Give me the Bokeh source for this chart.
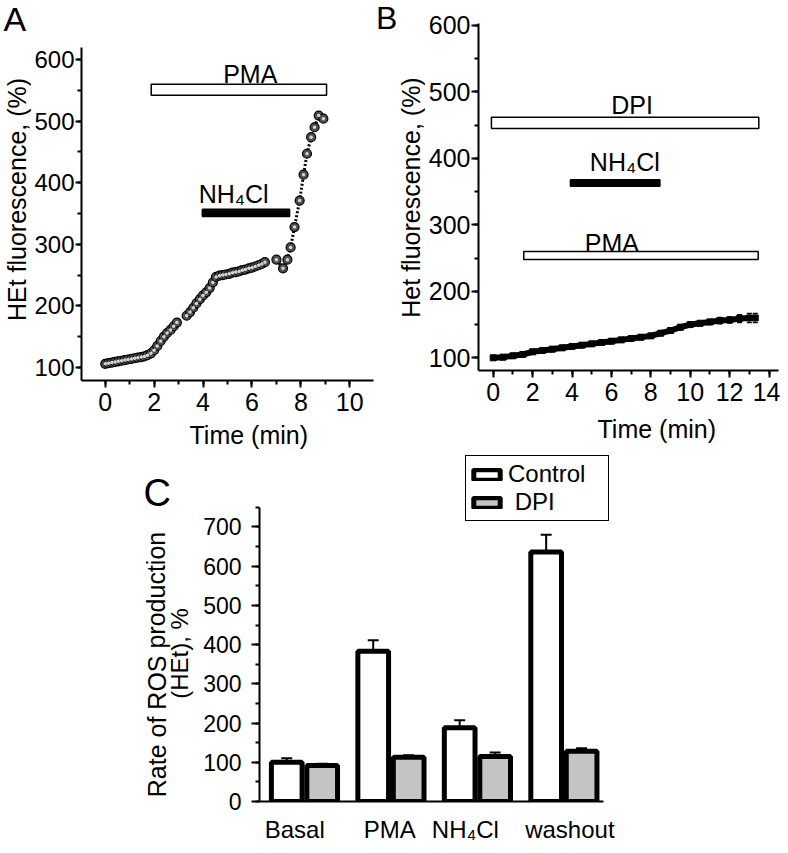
from bokeh.plotting import figure
from bokeh.layouts import column, row
from bokeh.models import (Range1d, SingleIntervalTicker, FixedTicker, Legend, Title,
                          LegendItem, ColumnDataSource, Whisker, TeeHead)
from bokeh.core.properties import value
from bokeh.embed import file_html
from bokeh.resources import INLINE

FONT = "Liberation Sans"

# ---------------- Panel A data ----------------
time_a = [0.00, 0.13, 0.27, 0.40, 0.53, 0.67, 0.80, 0.93, 1.07, 1.20, 1.33, 1.47, 1.60, 1.73, 1.87,
          2.00, 2.13, 2.27, 2.40, 2.53, 2.67, 2.80, 2.93,
          3.33, 3.47, 3.60, 3.73, 3.87, 4.00, 4.13, 4.27, 4.40, 4.53,
          4.67, 4.80, 4.93, 5.07, 5.20, 5.33, 5.47, 5.60, 5.73, 5.87, 6.00, 6.13, 6.27, 6.40, 6.53,
          7.00, 7.27, 7.45, 7.58, 7.74, 7.95, 8.11, 8.25, 8.42, 8.56, 8.73, 8.92]
het_a = [106, 107, 108, 109, 110, 111, 112, 113, 114, 115, 116, 117, 118, 120, 123,
         128, 135, 143, 150, 156, 161, 167, 173,
         184, 190, 197, 204, 211, 217, 222, 229, 238, 247,
         249, 250, 251, 252, 254, 255, 256, 258, 259, 261, 262, 264, 266, 268, 271,
         275, 261, 275, 295, 328, 371, 413, 447, 474, 490, 509, 504]
treat_a_names = ["PMA", "NH\u2084Cl"]
treat_a_start = [1.88, 3.97]
treat_a_end = [9.05, 7.54]

# ---------------- Panel B data ----------------
time_b = [0.0, 0.5, 1.0, 1.5, 2.0, 2.5, 3.0, 3.5, 4.0, 4.5, 5.0, 5.5, 6.0, 6.5, 7.0,
          7.5, 8.0, 8.5, 9.0, 9.5, 10.0, 10.5, 11.0, 11.5, 12.0, 12.5, 13.0, 13.3]
het_b = [100, 101, 103, 105, 109, 111, 113, 115, 117, 119, 121, 123, 125, 127, 129,
         131, 133, 137, 141, 146, 150, 152, 154, 156, 157, 159, 160, 160]
err_b = [2, 2, 2, 2, 2, 2, 3, 3, 3, 3, 3, 3, 3, 3, 3,
         3, 3, 3, 4, 4, 4, 4, 4, 5, 5, 6, 7, 7]
treat_b_names = ["DPI", "NH\u2084Cl", "PMA"]
treat_b_start = [-0.09, 3.92, 1.55]
treat_b_end = [13.48, 8.46, 13.45]

# ---------------- Panel C data ----------------
conditions = ["Basal", "PMA", "NH\u2084Cl", "washout"]
control_rate = [100, 383, 188, 636]
control_err = [10, 28, 19, 44]
dpi_rate = [92, 113, 115, 128]
dpi_err = [4, 5, 10, 8]


def no_align(p):
    if "frame_align" in p.properties():
        p.frame_align = False
    return p


def style_axes(p, size, tick_out=7, standoff=1):
    for ax in (p.xaxis[0], p.yaxis[0]):
        ax.axis_line_width = 2
        ax.axis_line_color = "black"
        ax.major_tick_line_width = 2
        ax.minor_tick_line_width = 2
        ax.major_tick_line_color = "black"
        ax.minor_tick_line_color = "black"
        ax.major_tick_out = tick_out
        ax.major_tick_in = 0
        ax.minor_tick_out = 4
        ax.minor_tick_in = 0
        ax.major_label_text_font = FONT
        ax.major_label_text_font_size = f"{size}px"
        ax.major_label_text_color = "black"
        ax.major_label_standoff = standoff
    p.xgrid.visible = False
    p.ygrid.visible = False
    p.outline_line_color = None


def text_panel(x0, y0, w, h):
    """A frame-only figure whose data space equals page pixels (for free text)."""
    f = figure(width=w, height=h, x_range=Range1d(x0, x0 + w), y_range=Range1d(y0 + h, y0),
               x_axis_location=None, y_axis_location=None, min_border=0,
               output_backend="svg", toolbar_location=None)
    f.xgrid.visible = False
    f.ygrid.visible = False
    f.outline_line_color = None
    return no_align(f)


def put(f, txt, x, y, size, angle=0.0, align="left"):
    f.text(x=[x], y=[y], text=[txt], angle=angle, text_align=align, text_baseline="middle",
           text_font=value(FONT), text_font_size=f"{size}px", text_color="black")


def xtitle(p, txt, offset, standoff):
    p.add_layout(Title(text=txt, align="left", offset=offset, standoff=standoff,
                       text_font=FONT, text_font_size="25px", text_font_style="normal",
                       text_color="black"), "below")


# ================= text column left of A =================
tA = text_panel(0, 0, 31, 455)
put(tA, "A", 3, 18, 34)
put(tA, "HEt fluorescence, (%)", 16.5, 199, 25, angle=1.5708, align="center")

# ================= Panel A =================
pA = figure(width=344, height=455, x_range=Range1d(-0.97, 10.97), y_range=Range1d(78.9, 619.5),
            min_border_left=47, min_border_right=2, min_border_top=47, min_border_bottom=75,
            output_backend="svg", toolbar_location=None)
no_align(pA)
style_axes(pA, 25)
pA.yaxis[0].major_label_text_font_size = "24px"
pA.yaxis[0].major_tick_out = 6
pA.xaxis[0].major_label_standoff = 5
pA.xaxis[0].ticker = SingleIntervalTicker(interval=2, num_minor_ticks=2)
pA.yaxis[0].ticker = SingleIntervalTicker(interval=100, num_minor_ticks=2)

pA.quad(left=treat_a_start, right=treat_a_end, bottom=[542, 345], top=[560, 357],
        fill_color=["white", "black"], line_color="black", line_width=1.5)
pA.text(x=[5.93, 5.25], y=[577, 381], text=treat_a_names, text_align="center",
        text_baseline="middle", text_font=value(FONT), text_font_size="25px", text_color="black")

pA.line(time_a[-12:], het_a[-12:], line_color="black", line_width=3, line_dash="2 2")
pA.scatter(time_a, het_a, size=9, fill_color="#4e4e4e", line_color="#000000", line_width=1.2)
pA.scatter(time_a, het_a, size=3.5, fill_color="#d4d4d4", line_color=None)
xtitle(pA, "Time (min)", 108, 11)

# ================= text column left of B =================
tB = text_panel(375, 0, 50, 455)
put(tB, "B", 375.5, 17.5, 32)
put(tB, "Het fluorescence, (%)", 410.5, 197, 25, angle=1.5708, align="center")

# ================= Panel B =================
pB = figure(width=355, height=455, x_range=Range1d(-0.746, 14.48), y_range=Range1d(80.9, 603),
            min_border_left=53, min_border_right=2, min_border_top=23, min_border_bottom=85,
            output_backend="svg", toolbar_location=None)
no_align(pB)
style_axes(pB, 25)
pB.xaxis[0].major_label_standoff = 5
pB.xaxis[0].ticker = SingleIntervalTicker(interval=2, num_minor_ticks=2)
pB.yaxis[0].ticker = SingleIntervalTicker(interval=100, num_minor_ticks=2)

pB.quad(left=treat_b_start, right=treat_b_end, bottom=[445, 358, 248], top=[462, 368, 260],
        fill_color=["white", "black", "white"], line_color="black", line_width=1.5)
pB.text(x=[7.05, 6.68, 6.02], y=[481, 394, 272], text=treat_b_names, text_align="center",
        text_baseline="middle", text_font=value(FONT), text_font_size="25px", text_color="black")

srcB = ColumnDataSource(dict(t=time_b, v=het_b,
                             up=[v + e for v, e in zip(het_b, err_b)],
                             lo=[v - e for v, e in zip(het_b, err_b)]))
pB.add_layout(Whisker(base="t", upper="up", lower="lo", source=srcB, line_width=1.2,
                      upper_head=TeeHead(size=5, line_width=1.2),
                      lower_head=TeeHead(size=5, line_width=1.2)))
pB.line("t", "v", source=srcB, line_color="black", line_width=6)
pB.scatter("t", "v", source=srcB, marker="square", size=6, fill_color="black", line_color="black")
xtitle(pB, "Time (min)", 119, 18)

# ================= text column left of C =================
tC = text_panel(0, 455, 200, 390)
put(tC, "C", 143, 492.5, 38)
put(tC, "Rate of ROS production", 156, 664, 25, angle=1.5708, align="center")
put(tC, "(HEt), %", 179, 653, 24, angle=1.5708, align="center")

# ================= Panel C =================
# horizontal places of the category names under the groups (layout only)
cat_label_pos = [-0.112, 0.987, 1.861, 3.069]

pC = figure(width=572, height=390, x_range=Range1d(-0.52, 3.886), y_range=Range1d(0, 882.2),
            min_border_left=57, min_border_right=132, min_border_top=0, min_border_bottom=38,
            output_backend="svg", toolbar_location=None)
no_align(pC)
style_axes(pC, 23, tick_out=8, standoff=10)
pC.yaxis[0].ticker = SingleIntervalTicker(interval=100, num_minor_ticks=2)
pC.yaxis[0].bounds = (0, 750)
pC.xaxis[0].bounds = (-0.52, 3.46)
pC.xaxis[0].ticker = FixedTicker(ticks=cat_label_pos)
pC.xaxis[0].major_label_overrides = {pos: c for pos, c in zip(cat_label_pos, conditions)}
pC.xaxis[0].major_tick_out = 0
pC.xaxis[0].major_label_text_font_size = "24px"
pC.xaxis[0].major_label_standoff = 14

idx = list(range(len(conditions)))
x_ctrl = [i - 0.205 for i in idx]
x_dpi = [i + 0.205 for i in idx]

srcC = ColumnDataSource(dict(xc=x_ctrl, yc=control_rate,
                             uc=[v + e for v, e in zip(control_rate, control_err)],
                             xd=x_dpi, yd=dpi_rate,
                             ud=[v + e for v, e in zip(dpi_rate, dpi_err)]))
pC.add_layout(Whisker(base="xc", upper="uc", lower="yc", source=srcC, line_width=2,
                      upper_head=TeeHead(size=11, line_width=2), lower_head=None))
pC.add_layout(Whisker(base="xd", upper="ud", lower="yd", source=srcC, line_width=2,
                      upper_head=TeeHead(size=11, line_width=2), lower_head=None))
r_ctrl = pC.vbar(x="xc", top="yc", width=0.355, source=srcC, fill_color="white",
                 line_color="black", line_width=5)
r_dpi = pC.vbar(x="xd", top="yd", width=0.355, source=srcC, fill_color="#c4c4c4",
                line_color="black", line_width=5)

legend = Legend(items=[LegendItem(label="Control", renderers=[r_ctrl]),
                       LegendItem(label=" DPI", renderers=[r_dpi])],
                location=(206, 280), glyph_width=33, glyph_height=13,
                label_text_font=FONT, label_text_font_size="24px", label_text_color="black",
                padding=4, spacing=0, margin=0, label_standoff=5, label_width=96,
                border_line_color="black", border_line_width=1, border_line_alpha=1,
                background_fill_color="white", background_fill_alpha=1)
pC.add_layout(legend)

layout = column(row(tA, pA, tB, pB), row(tC, pC))
open("out.html", "w").write(file_html(layout, INLINE))
